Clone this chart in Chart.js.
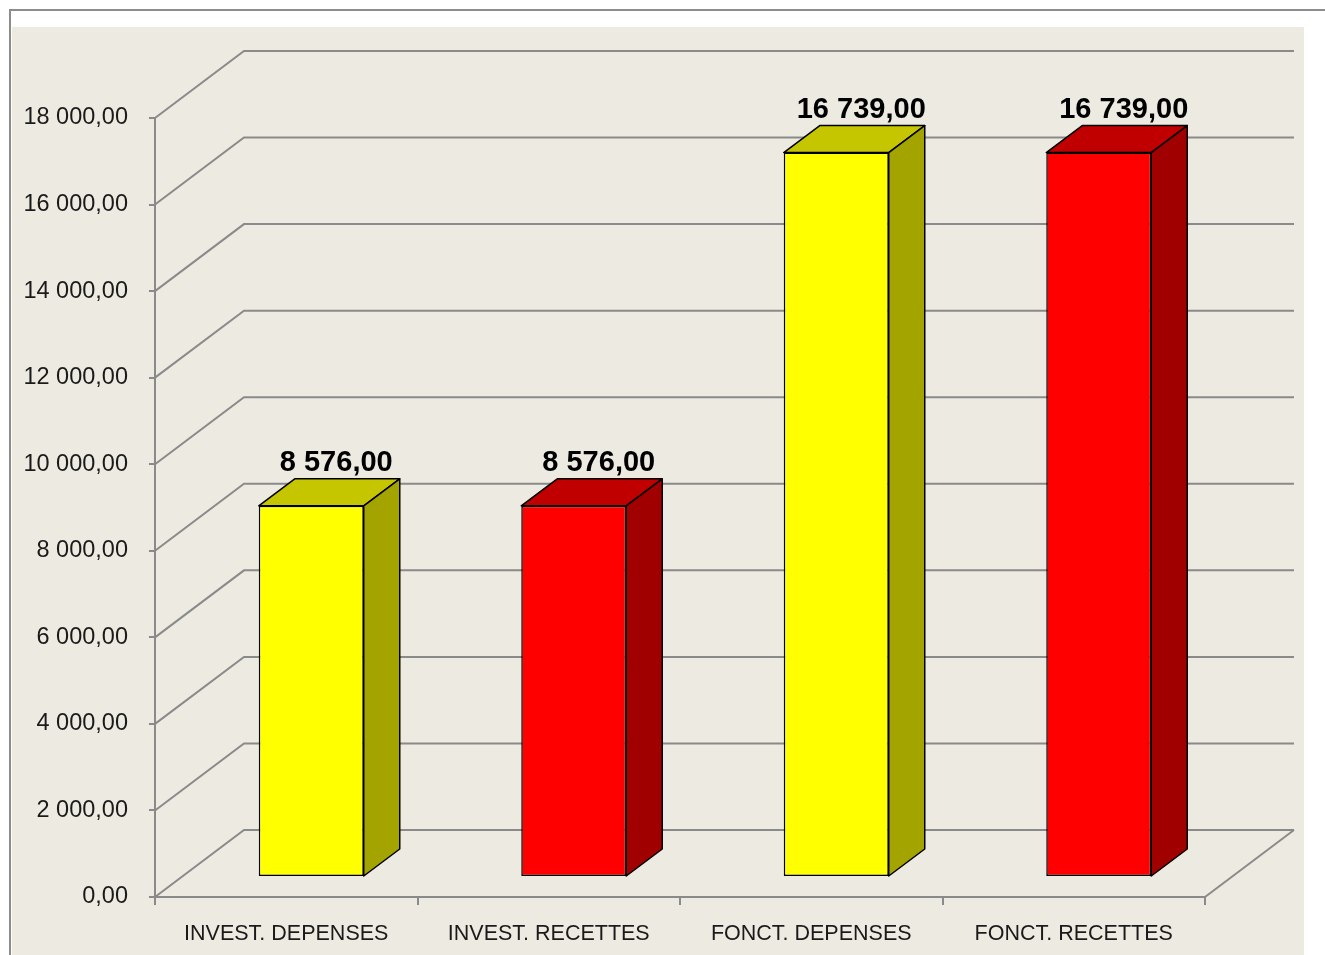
<!DOCTYPE html>
<html lang="fr">
<head>
  <meta charset="UTF-8">
  <title>Budget - Investissement / Fonctionnement</title>
  <script src="https://cdn.jsdelivr.net/npm/chart.js"></script>
  <style>
    body { margin: 0; background: #ffffff; }
    #wrap { width: 1325px; height: 955px; position: relative; }
  </style>
</head>
<body>
  <div id="wrap">
    <canvas id="budgetChart" width="1325" height="955"></canvas>
  </div>

  <script>
    // donnees du graphique
    const categories = ['INVEST. DEPENSES', 'INVEST. RECETTES', 'FONCT. DEPENSES', 'FONCT. RECETTES'];
    const montants = [8576, 8576, 16739, 16739];
    const frontColors = ['#FFFF00', '#FF0000', '#FFFF00', '#FF0000'];
    const topColors = ['#C6C600', '#C00000', '#C6C600', '#C00000'];
    const sideColors = ['#A4A400', '#A00000', '#A4A400', '#A00000'];

    // profondeur du mur du fond et des barres
    const WALL_DX = 89, WALL_DY = 67;
    const BAR_SHIFT_X = 25, BAR_SHIFT_Y = -20;
    const BAR_DX = 36, BAR_DY = 27;
    const GRID = '#8a8a8a';

    // 18000 -> "18 000,00"
    function fmt(v) {
      const parts = v.toFixed(2).split('.');
      return parts[0].replace(/\B(?=(\d{3})+(?!\d))/g, ' ') + ',' + parts[1];
    }

    const frame = {
      id: 'frame',
      beforeDraw(chart) {
        const c = chart.ctx;
        c.save();
        c.fillStyle = '#ffffff';
        c.fillRect(0, 0, chart.width, chart.height);
        c.fillStyle = '#EDEBE1';
        c.fillRect(12, 27, 1292, chart.height - 27);
        c.strokeStyle = '#8c8c8c';
        c.lineWidth = 2;
        c.beginPath();
        c.moveTo(10, chart.height);
        c.lineTo(10, 10);
        c.lineTo(chart.width, 10);
        c.stroke();
        c.restore();
      }
    };

    const box3d = {
      id: 'box3d',
      beforeDatasetsDraw(chart) {
        const c = chart.ctx;
        const y = chart.scales.y;
        const a = chart.chartArea;
        c.save();
        c.strokeStyle = GRID;
        c.lineWidth = 2;
        // mur du fond + diagonales
        y.ticks.forEach(t => {
          const py = y.getPixelForValue(t.value);
          c.beginPath();
          c.moveTo(a.left, py);
          c.lineTo(a.left + WALL_DX, py - WALL_DY);
          c.lineTo(a.right + WALL_DX, py - WALL_DY);
          c.stroke();
        });
        // bord droit du sol
        c.beginPath();
        c.moveTo(a.right, a.bottom);
        c.lineTo(a.right + WALL_DX, a.bottom - WALL_DY);
        c.stroke();
        c.restore();

        // les barres sont posees au milieu du sol
        c.save();
        c.translate(BAR_SHIFT_X, BAR_SHIFT_Y);
      },
      afterDatasetsDraw(chart) {
        const c = chart.ctx;
        const meta = chart.getDatasetMeta(0);
        c.lineWidth = 1.5;
        c.strokeStyle = '#000000';
        c.lineJoin = 'round';
        meta.data.forEach((bar, i) => {
          const x0 = bar.x - bar.width / 2;
          const x1 = bar.x + bar.width / 2;
          const yt = bar.y, yb = bar.base;
          // dessus
          c.beginPath();
          c.moveTo(x0, yt);
          c.lineTo(x0 + BAR_DX, yt - BAR_DY);
          c.lineTo(x1 + BAR_DX, yt - BAR_DY);
          c.lineTo(x1, yt);
          c.closePath();
          c.fillStyle = topColors[i];
          c.fill();
          c.stroke();
          // cote
          c.beginPath();
          c.moveTo(x1, yt);
          c.lineTo(x1 + BAR_DX, yt - BAR_DY);
          c.lineTo(x1 + BAR_DX, yb - BAR_DY);
          c.lineTo(x1, yb);
          c.closePath();
          c.fillStyle = sideColors[i];
          c.fill();
          c.stroke();
          // etiquette
          c.fillStyle = '#000000';
          c.font = 'bold 29px "Liberation Sans", Arial, sans-serif';
          c.textAlign = 'center';
          c.textBaseline = 'alphabetic';
          c.fillText(fmt(montants[i]), bar.x + 25, yt - BAR_DY - 8);
        });
        c.restore();
      }
    };

    const ctx = document.getElementById('budgetChart').getContext('2d');
    new Chart(ctx, {
      type: 'bar',
      data: {
        labels: categories,
        datasets: [{
          data: montants,
          backgroundColor: frontColors,
          borderColor: '#000000',
          borderWidth: 1.5,
          borderSkipped: false,
          categoryPercentage: 1,
          barPercentage: 0.4,
          clip: false
        }]
      },
      options: {
        responsive: false,
        animation: false,
        devicePixelRatio: 1,
        layout: { padding: { top: 118, right: 120, bottom: 0, left: 0 } },
        plugins: { legend: { display: false }, tooltip: { enabled: false } },
        scales: {
          x: {
            afterFit(s) { s.height = 58; },
            border: { color: GRID, width: 2 },
            grid: { drawOnChartArea: false, tickLength: 8, color: GRID, lineWidth: 2 },
            ticks: {
              color: '#1a1a1a',
              padding: 16,
              maxRotation: 0,
              font: { family: '"Liberation Sans", Arial, sans-serif', size: 21.5 }
            }
          },
          y: {
            min: 0,
            max: 18000,
            afterFit(s) { s.width = 155; },
            border: { color: GRID, width: 2 },
            grid: { drawOnChartArea: false, tickLength: 6, color: GRID, lineWidth: 2 },
            ticks: {
              stepSize: 2000,
              color: '#1a1a1a',
              padding: 21,
              font: { family: '"Liberation Sans", Arial, sans-serif', size: 23.5 },
              callback: v => fmt(v)
            }
          }
        }
      },
      plugins: [frame, box3d]
    });
  </script>
</body>
</html>
